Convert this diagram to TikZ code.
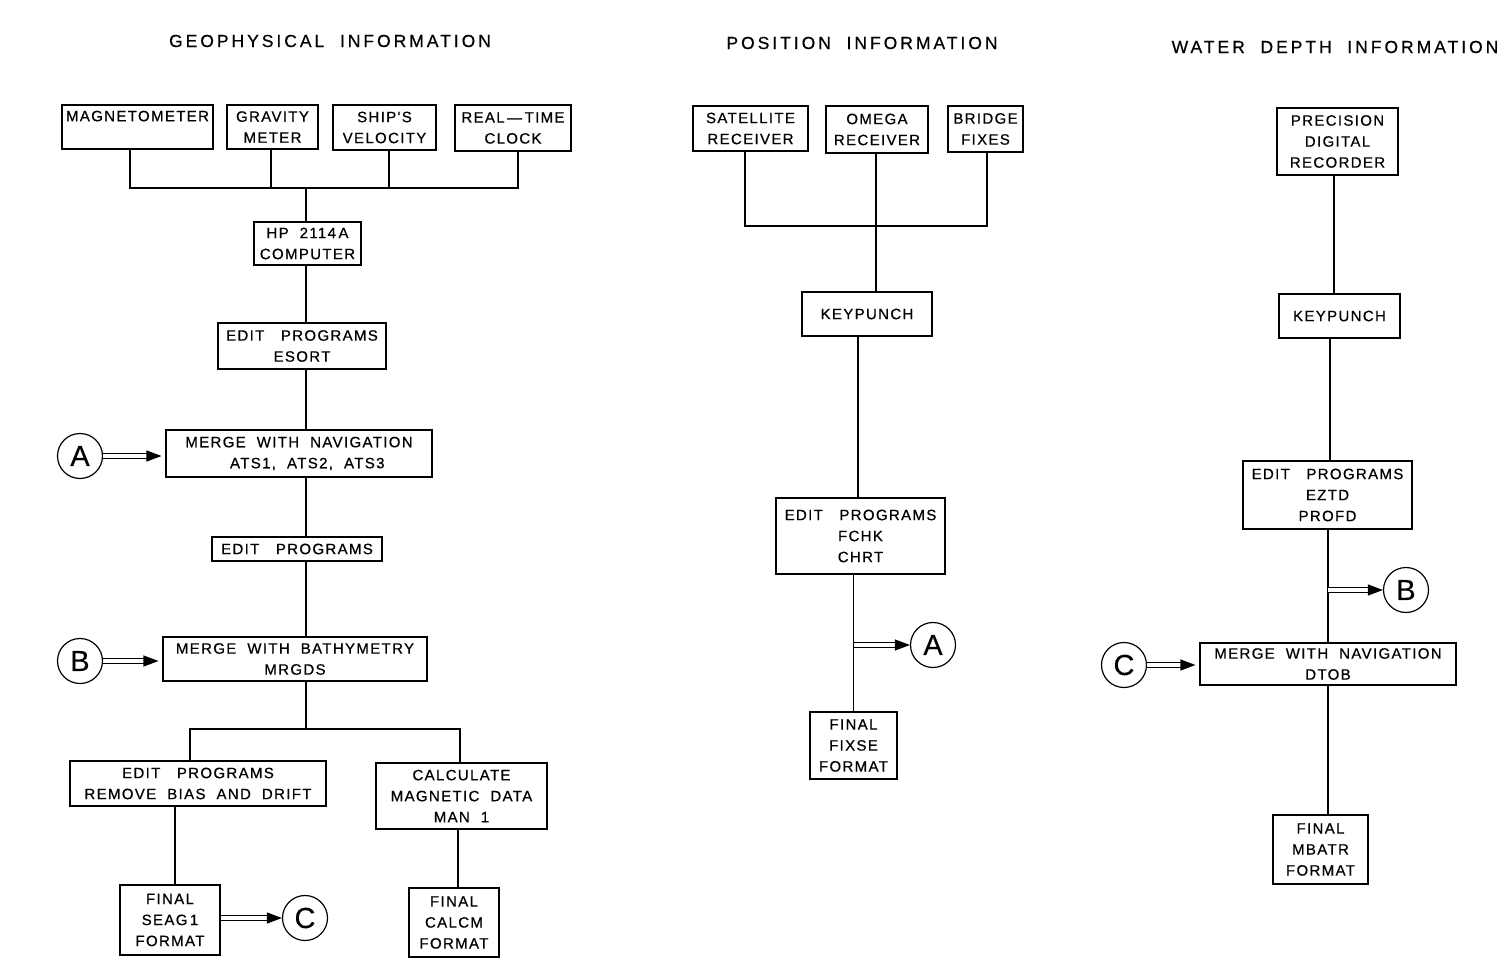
\documentclass[tikz,border=0pt]{standalone}
\usepackage{fontspec}
\setmainfont{Liberation Sans}
\newfontfamily\lab[LetterSpace=9,FakeBold=0.6]{Liberation Sans}
\newfontfamily\ttl[LetterSpace=17,FakeBold=0.5]{Liberation Sans}
\newfontfamily\circfont[FakeBold=0.3]{Liberation Sans}
\usetikzlibrary{arrows.meta}
\begin{document}
\begin{tikzpicture}[x=1pt,y=-1pt,
  box/.style={draw, line width=1.1pt, inner sep=0pt, align=center,
    font=\lab\fontsize{15}{21}\selectfont},
  conn/.style={line width=1.3pt},
  circ/.style={draw, circle, line width=1.2pt, minimum size=45pt, inner sep=0pt,
    font=\circfont\fontsize{29}{29}\selectfont},
  dbl/.style={double, double distance=3.2pt, line width=1.1pt,
    -{Triangle[length=15pt,width=11pt]}},
  title/.style={font=\ttl\fontsize{17.5}{17.5}\selectfont}]
\useasboundingbox (0,0) rectangle (1507,960);
\fill[white] (0,0) rectangle (1507,960);

% titles
\node[title] (t1) at (330,41) {GEOPHYSICAL\ \ INFORMATION};
\node[title] (t2) at (862,43) {POSITION\ \ INFORMATION};
\node[title] (t3) at (1335,47) {WATER\ \ DEPTH\ \ INFORMATION};

% ---------------- Geophysical
\node[box, minimum width=151pt, minimum height=44pt] (mag) at (137.5,127) {MAGNETOMETER\\[1pt]\phantom{X}};
\node[box, minimum width=91pt, minimum height=44pt] (grav) at (272.5,127) {GRAVITY\\METER};
\node[box, minimum width=103pt, minimum height=45pt] (ship) at (384.5,127.5) {SHIP'S\\VELOCITY};
\node[box, minimum width=116pt, minimum height=46pt] (clock) at (513,128) {REAL\,\textemdash\,TIME\\CLOCK};
\coordinate (bus1) at (306,188);
\node[box, minimum width=107pt, minimum height=43pt] (hp) at (307.5,243.5) {HP\ \ 2114\,A\\COMPUTER};
\node[box, minimum width=168pt, minimum height=46pt] (esort) at (302,346) {EDIT\ \ \ PROGRAMS\\ESORT};
\node[box, minimum width=266pt, minimum height=47pt] (mergeA) at (299,453.5) {MERGE\ \ WITH\ \ NAVIGATION\\\ \ \ ATS1,\ \ ATS2,\ \ ATS3};
\node[box, minimum width=170pt, minimum height=24pt] (edit2) at (297,549) {EDIT\ \ \ PROGRAMS};
\node[box, minimum width=264pt, minimum height=44pt] (mergeB) at (295,659) {MERGE\ \ WITH\ \ BATHYMETRY\\MRGDS};
\coordinate (bus2) at (306,729);
\node[box, minimum width=256pt, minimum height=45pt] (bias) at (198,783.5) {EDIT\ \ \ PROGRAMS\\REMOVE\ \ BIAS\ \ AND\ \ DRIFT};
\node[box, minimum width=171pt, minimum height=66pt] (calc) at (461.5,796) {CALCULATE\\MAGNETIC\ \ DATA\\MAN\ \ 1};
\node[box, minimum width=100pt, minimum height=70pt] (seag) at (170,920) {FINAL\\SEAG\,1\\FORMAT};
\node[box, minimum width=90pt, minimum height=69pt] (calcm) at (454,922.5) {FINAL\\CALCM\\FORMAT};
\node[circ] (cA) at (80,456) {A};
\node[circ] (cB) at (80,661) {B};
\node[circ] (cC) at (305,918) {C};

\draw[conn] ([xshift=-7.5pt]mag.south) |- (bus1) -| ([xshift=5pt]clock.south);
\draw[conn] ([xshift=-1.5pt]grav.south) -- ([xshift=-1.5pt]grav.south |- bus1);
\draw[conn] ([xshift=4.5pt]ship.south) -- ([xshift=4.5pt]ship.south |- bus1);
\draw[conn] (bus1) -- (bus1 |- hp.north);
\draw[conn] (bus1 |- hp.south) -- (bus1 |- esort.north);
\draw[conn] (bus1 |- esort.south) -- (bus1 |- mergeA.north);
\draw[conn] (bus1 |- mergeA.south) -- (bus1 |- edit2.north);
\draw[conn] (bus1 |- edit2.south) -- (bus1 |- mergeB.north);
\draw[conn] (bus1 |- mergeB.south) -- (bus2);
\draw[conn] ([xshift=-8pt]bias.north) |- (bus2) -| ([xshift=-1.5pt]calc.north);
\draw[conn] ([xshift=5pt]seag.north) -- ([xshift=5pt]seag.north |- bias.south);
\draw[conn] ([xshift=4pt]calcm.north) -- ([xshift=4pt]calcm.north |- calc.south);
\draw[dbl] (cA.east) -- ([xshift=-4pt]mergeA.west |- cA);
\draw[dbl] (cB.east) -- ([xshift=-4pt]mergeB.west |- cB);
\draw[dbl] (seag.east |- cC) -- (cC.west);

% ---------------- Position
\node[box, minimum width=115pt, minimum height=45pt] (sat) at (750.5,128.5) {SATELLITE\\RECEIVER};
\node[box, minimum width=102pt, minimum height=47pt] (omega) at (877,129.5) {OMEGA\\RECEIVER};
\node[box, minimum width=75pt, minimum height=46pt] (bridge) at (985.5,129) {BRIDGE\\FIXES};
\coordinate (pbus) at (876,226);
\node[box, minimum width=130pt, minimum height=44pt] (kp1) at (867,314) {KEYPUNCH};
\node[box, minimum width=169pt, minimum height=76pt] (fchk) at (860.5,536) {EDIT\ \ \ PROGRAMS\\FCHK\\CHRT};
\node[box, minimum width=87pt, minimum height=67pt] (fixse) at (853.5,745.5) {FINAL\\FIXSE\\FORMAT};
\node[circ] (cA2) at (933,645) {A};

\draw[conn] ([xshift=-5.5pt]sat.south) |- (pbus) -| ([xshift=1.5pt]bridge.south);
\draw[conn] (pbus |- omega.south) -- (pbus |- kp1.north);
\draw[conn] ([xshift=-9pt]kp1.south) -- ([xshift=-9pt]kp1.south |- fchk.north);
\draw[conn] (fixse.north) -- (fixse.north |- fchk.south);
\draw[dbl] (fixse.north |- cA2) -- (cA2.west);

% ---------------- Water depth
\node[box, minimum width=121pt, minimum height=67pt] (prec) at (1337.5,141.5) {PRECISION\\DIGITAL\\RECORDER};
\node[box, minimum width=121pt, minimum height=44pt] (kp2) at (1339.5,316) {KEYPUNCH};
\node[box, minimum width=169pt, minimum height=68pt] (eztd) at (1327.5,495) {EDIT\ \ \ PROGRAMS\\EZTD\\PROFD};
\node[box, minimum width=256pt, minimum height=42pt] (dtob) at (1328,664) {MERGE\ \ WITH\ \ NAVIGATION\\DTOB};
\node[box, minimum width=95pt, minimum height=69pt] (mbatr) at (1320.5,849.5) {FINAL\\MBATR\\FORMAT};
\node[circ] (cB2) at (1406,590) {B};
\node[circ] (cC2) at (1124,665) {C};

\draw[conn] ([xshift=-3.5pt]prec.south) -- ([xshift=-3.5pt]prec.south |- kp2.north);
\draw[conn] ([xshift=-9.5pt]kp2.south) -- ([xshift=-9.5pt]kp2.south |- eztd.north);
\draw[conn] (dtob.north |- eztd.south) -- (dtob.north);
\draw[conn] (dtob.south) -- (dtob.south |- mbatr.north);
\draw[dbl] (dtob.north |- cB2) -- (cB2.west);
\draw[dbl] (cC2.east) -- ([xshift=-4pt]dtob.west |- cC2);
\end{tikzpicture}
\end{document}
